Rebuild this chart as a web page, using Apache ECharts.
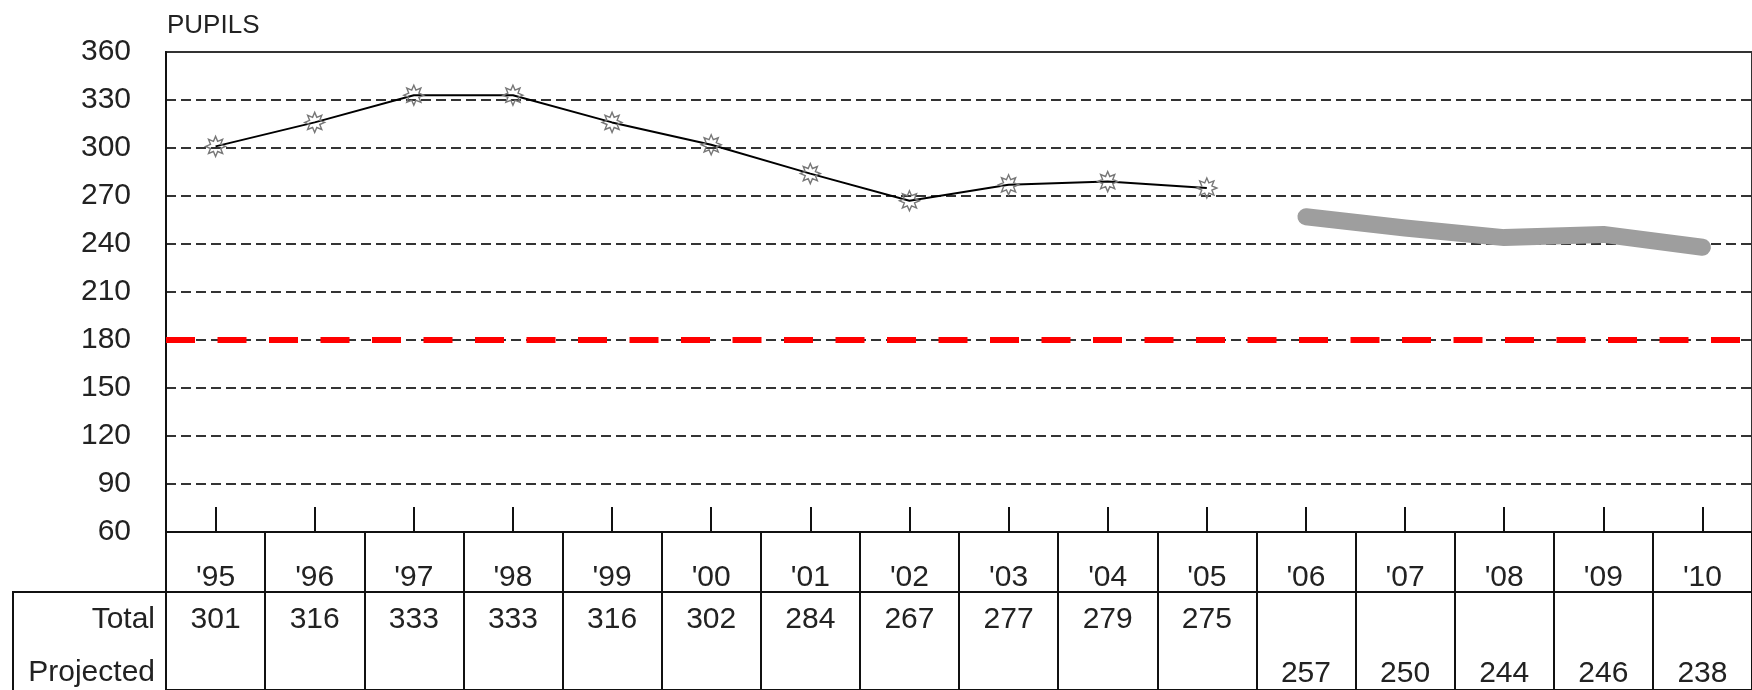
<!DOCTYPE html>
<html>
<head>
<meta charset="utf-8">
<script src="https://cdn.jsdelivr.net/npm/echarts@6/dist/echarts.min.js"></script>
<style>
html,body{margin:0;padding:0;background:#fff;}
#chart{width:1752px;height:690px;}
</style>
</head>
<body>
<div id="chart"></div>
<script>
const categories = ["'95","'96","'97","'98","'99","'00","'01","'02","'03","'04","'05","'06","'07","'08","'09","'10"];
const totalValues = [301, 316, 333, 333, 316, 302, 284, 267, 277, 279, 275];
const projectedValues = [257, 250, 244, 246, 238];
const targetLevel = 180;
const yMin = 60, yMax = 360, yStep = 30;
const rowLabels = ["Total", "Projected"];

const projStart = categories.length - projectedValues.length;
const totalSeries = categories.map((c, i) => i < totalValues.length ? totalValues[i] : null);
const projSeries = categories.map((c, i) => i >= projStart ? projectedValues[i - projStart] : null);

const FONT = "'Liberation Sans', Arial, Helvetica, sans-serif";
const FS = 30;
const starPath = 'path://M10,0L5.08,2.1L7.07,7.07L2.1,5.08L0,10L-2.1,5.08L-7.07,7.07L-5.08,2.1L-10,0L-5.08,-2.1L-7.07,-7.07L-2.1,-5.08L0,-10L2.1,-5.08L7.07,-7.07L5.08,-2.1Z';

const chart = echarts.init(document.getElementById('chart'));
chart.setOption({
  animation: false,
  backgroundColor: '#fff',
  textStyle: { fontFamily: FONT },
  title: {
    text: 'PUPILS', left: 167, top: 13, padding: 0,
    textStyle: { fontSize: 26, fontWeight: 'normal', color: '#222', fontFamily: FONT }
  },
  grid: [
    { left: 166, right: -4, top: 52, bottom: 158, show: true, borderColor: '#333', borderWidth: 2, containLabel: false },
    { left: 166, right: -4, top: 532, bottom: -30, show: true, borderColor: '#111', borderWidth: 2, containLabel: false }
  ],
  xAxis: [
    {
      type: 'category', gridIndex: 0, data: categories, boundaryGap: true,
      axisLine: { show: true, lineStyle: { color: '#111', width: 2 } },
      axisTick: { show: true, inside: true, length: 25, alignWithLabel: true, lineStyle: { color: '#111', width: 2 } },
      splitLine: { show: false },
      axisLabel: {
        interval: 0, margin: 25, color: '#222', fontFamily: FONT,
        formatter: function (value, index) {
          const t = index < totalValues.length ? totalValues[index] : ' ';
          const p = index >= projStart ? projectedValues[index - projStart] : ' ';
          return '{c|' + value + '}\n{t|' + t + '}\n{p|' + p + '}';
        },
        rich: {
          c: { fontSize: FS, lineHeight: 42, fontFamily: FONT, color: '#222' },
          t: { fontSize: FS, lineHeight: 42, fontFamily: FONT, color: '#222' },
          p: { fontSize: FS, lineHeight: 66, fontFamily: FONT, color: '#222' }
        }
      }
    },
    {
      type: 'category', gridIndex: 1, data: categories, boundaryGap: true,
      axisLine: { show: false }, axisTick: { show: false }, axisLabel: { show: false },
      splitLine: { show: true, interval: 0, lineStyle: { color: '#111', width: 2 } }
    }
  ],
  yAxis: [
    {
      type: 'value', gridIndex: 0, min: yMin, max: yMax, interval: yStep,
      axisLine: { show: true, lineStyle: { color: '#111', width: 2 } },
      axisTick: { show: false },
      axisLabel: { fontSize: FS, color: '#222', margin: 35, fontFamily: FONT },
      splitLine: { show: true, lineStyle: { color: '#333', width: 2, type: [10, 5] } }
    },
    {
      type: 'value', gridIndex: 1, show: false, min: 0, max: 1,
      splitLine: { show: false }
    }
  ],
  graphic: [
    { type: 'polyline', silent: true, shape: { points: [[13, 700], [13, 592], [1752, 592]] }, style: { stroke: '#111', lineWidth: 2, fill: null } },
    { type: 'text', right: 1752 - 155, top: 605, style: { text: rowLabels[0], fontSize: FS, fill: '#222', fontFamily: FONT, textAlign: 'right' } },
    { type: 'text', right: 1752 - 155, top: 658, style: { text: rowLabels[1], fontSize: FS, fill: '#222', fontFamily: FONT, textAlign: 'right' } }
  ],
  series: [
    {
      name: 'Total', type: 'line', xAxisIndex: 0, yAxisIndex: 0, data: totalSeries,
      symbol: starPath, symbolSize: 20, showSymbol: true,
      lineStyle: { color: '#000', width: 2 },
      itemStyle: { color: 'rgba(255,255,255,0)', borderColor: '#777', borderWidth: 1.4 },
      z: 5,
      markLine: {
        silent: true, symbol: 'none', label: { show: false },
        lineStyle: { color: '#ff0000', width: 6, type: [29, 22.5] },
        data: [{ yAxis: targetLevel }]
      }
    },
    {
      name: 'Projected', type: 'line', xAxisIndex: 0, yAxisIndex: 0, data: projSeries,
      symbol: 'none', showSymbol: false,
      lineStyle: { color: '#9e9e9e', width: 17, cap: 'round', join: 'round' },
      z: 4
    }
  ]
});
</script>
</body>
</html>
